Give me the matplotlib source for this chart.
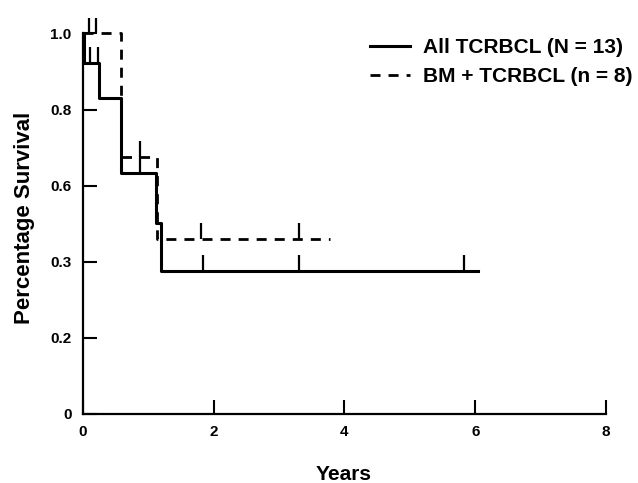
import matplotlib
matplotlib.use("Agg")
import matplotlib.pyplot as plt

# Kaplan-Meier steps
all_t = [0, 0.02, 0.25, 0.58, 1.12, 1.20, 6.04]
all_s = [1.0, 0.923, 0.831, 0.634, 0.503, 0.377, 0.377]
bm_t = [0, 0.58, 1.13, 3.78]
bm_s = [1.0, 0.676, 0.46, 0.46]

# censored observations (tick marks)
all_cens_t = [0.11, 0.23, 0.88, 1.84, 3.31, 5.83]
all_cens_s = [0.923, 0.923, 0.634, 0.377, 0.377, 0.377]
bm_cens_t = [0.10, 0.21, 0.88, 1.81, 3.31]
bm_cens_s = [1.0, 1.0, 0.676, 0.46, 0.46]

yticks = [0, 0.2, 0.4, 0.6, 0.8, 1.0]
ytick_labels = ["0", "0.2", "0.3", "0.6", "0.8", "1.0"]
xticks = [0, 2, 4, 6, 8]

plt.rcParams["font.family"] = ["Liberation Sans", "DejaVu Sans"]
plt.rcParams["font.weight"] = "bold"

fig = plt.figure(figsize=(6.38, 4.83), dpi=100)
ax = fig.add_axes([0.1296, 0.1429, 0.8204, 0.8547])

ax.step(all_t, all_s, where="post", color="black", lw=2.2, label="All TCRBCL (N = 13)")
ax.step(bm_t, bm_s, where="post", color="black", lw=2.0, linestyle=(0, (3.6, 2.9)),
        label="BM + TCRBCL (n = 8)")

h = 0.042
ax.vlines(all_cens_t, all_cens_s, [s + h for s in all_cens_s], color="black", lw=1.6)
ax.vlines(bm_cens_t, bm_cens_s, [s + h for s in bm_cens_s], color="black", lw=1.6)

ax.set_xlim(0, 8)
ax.set_ylim(0, 1.085)
ax.spines["top"].set_visible(False)
ax.spines["right"].set_visible(False)
ax.spines["left"].set_bounds(0, 1.0)
for sp in ("left", "bottom"):
    ax.spines[sp].set_linewidth(1.6)

ax.set_xticks(xticks)
ax.set_yticks(yticks)
ax.set_yticklabels(ytick_labels)
ax.tick_params(direction="in", length=10, width=1.5, pad=8, labelsize=11)

ax.text(-0.112, 0.474, "Percentage Survival", transform=ax.transAxes, rotation=90,
        ha="center", va="center", fontsize=16, fontweight="bold")
ax.text(0.4987, -0.1466, "Years", transform=ax.transAxes, ha="center", va="center",
        fontsize=15, fontweight="bold")

leg = ax.legend(loc="upper left", bbox_to_anchor=(0.549, 0.911), frameon=False,
                fontsize=15, handlelength=1.9, handletextpad=0.65, borderpad=0,
                borderaxespad=0, labelspacing=0.5)

fig.savefig("out.png", dpi=100)
